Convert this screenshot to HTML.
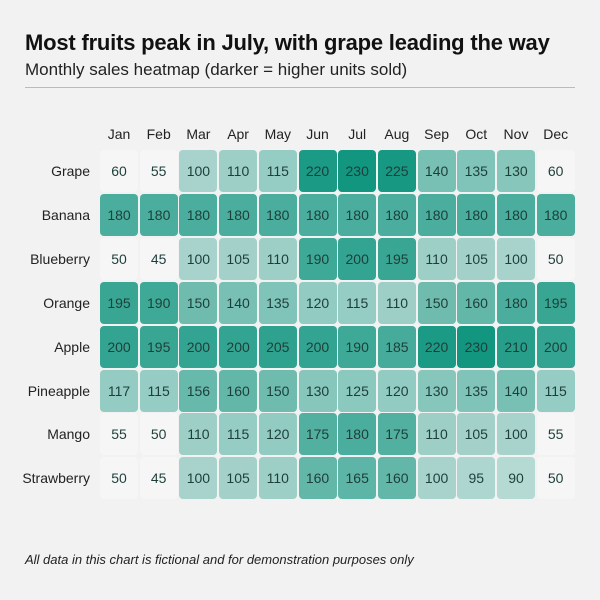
<!DOCTYPE html>
<html><head><meta charset="utf-8"><style>
body{margin:0;background:#f2f2f2;font-family:"Liberation Sans","DejaVu Sans",sans-serif;}
#c{position:relative;width:600px;height:600px;overflow:hidden;}
.t{position:absolute;left:25px;top:30px;font-size:22px;font-weight:bold;color:#111;letter-spacing:-0.2px;white-space:nowrap}
.s{position:absolute;left:25px;top:60px;font-size:17px;color:#222;white-space:nowrap}
.hr{position:absolute;left:25px;top:87px;width:550px;height:1px;background:#bbb}
.f{position:absolute;left:25px;top:552px;font-size:13px;font-style:italic;color:#222}
.cell{position:absolute;width:38px;height:42px;border-radius:4px;text-align:center;line-height:42px;font-size:14px;color:#1d3f3a}
.m{position:absolute;top:126px;width:40px;text-align:center;font-size:14px;color:#222}
.r{position:absolute;left:0;width:90px;text-align:right;font-size:14px;color:#222;line-height:42px}
</style></head><body><div id="c">
<div class="t">Most fruits peak in July, with grape leading the way</div>
<div class="s">Monthly sales heatmap (darker = higher units sold)</div>
<div class="hr"></div>
<div class="f">All data in this chart is fictional and for demonstration purposes only</div>
</div>
<script>
var M=["Jan","Feb","Mar","Apr","May","Jun","Jul","Aug","Sep","Oct","Nov","Dec"];
var R=[["Grape",[60,55,100,110,115,220,230,225,140,135,130,60]],
["Banana",[180,180,180,180,180,180,180,180,180,180,180,180]],
["Blueberry",[50,45,100,105,110,190,200,195,110,105,100,50]],
["Orange",[195,190,150,140,135,120,115,110,150,160,180,195]],
["Apple",[200,195,200,200,205,200,190,185,220,230,210,200]],
["Pineapple",[117,115,156,160,150,130,125,120,130,135,140,115]],
["Mango",[55,50,110,115,120,175,180,175,110,105,100,55]],
["Strawberry",[50,45,100,105,110,160,165,160,100,95,90,50]]];
var c=document.getElementById('c'),h='';
M.forEach(function(m,i){h+='<div class="m" style="left:'+(99+i*39.7)+'px">'+m+'</div>';});
R.forEach(function(r,j){var y=150+j*43.9;
h+='<div class="r" style="top:'+y+'px">'+r[0]+'</div>';
r[1].forEach(function(v,i){var a=Math.min(1,0.3+(v-95)/190);
var col=v<70?'rgba(255,255,255,0.35)':'rgba(18,150,128,'+a.toFixed(2)+')';
h+='<div class="cell" style="left:'+(100+i*39.7)+'px;top:'+y+'px;background:'+col+'">'+v+'</div>';});});
c.insertAdjacentHTML('beforeend',h);
</script></body></html>
